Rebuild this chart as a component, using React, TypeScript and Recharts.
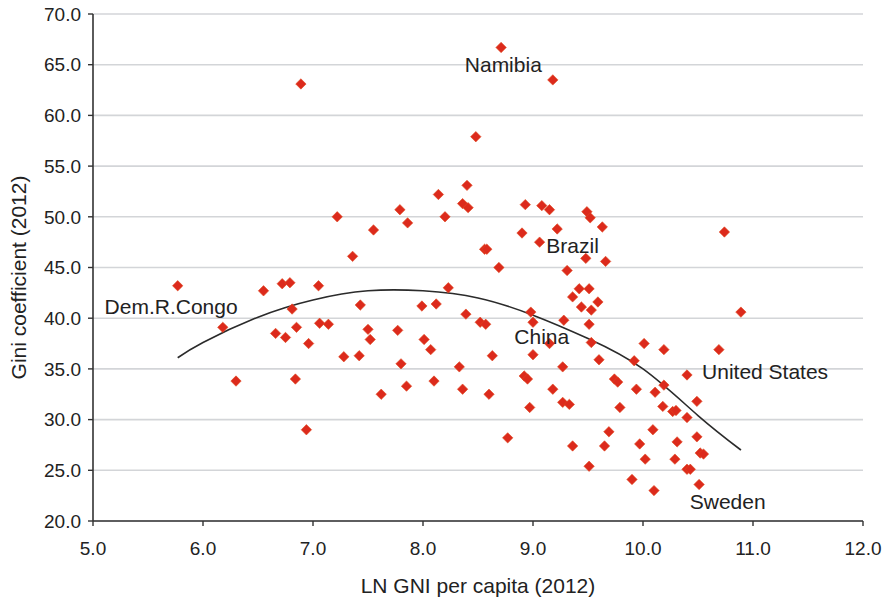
import { ComposedChart, Scatter, Line, XAxis, YAxis, CartesianGrid, ReferenceDot } from "recharts"

// LN GNI per capita (2012) vs Gini coefficient (2012), one entry per country
const lnGni = [
  6.89, 7.22, 7.55, 7.36,
  8.71, 9.18, 8.48, 8.4, 8.14, 7.79, 7.86, 8.2, 8.36, 8.41, 8.93, 9.08, 9.15, 9.49, 9.52, 9.63,
  8.9, 9.22, 9.06, 8.56, 8.58, 8.69, 9.48, 9.66, 9.31,
  8.23, 9.42, 9.51, 9.36, 9.59, 9.44, 9.53, 7.99, 8.12, 8.39, 8.52, 8.57, 8.98, 9.0, 9.28, 9.51,
  7.77, 8.01, 8.07, 9.15, 9.53, 9.0, 8.63, 9.6, 7.8, 8.33, 9.27, 10.01, 10.19, 9.92,
  7.85, 8.1, 8.36, 8.6, 7.62, 8.92, 8.95, 9.18, 8.97, 9.27, 9.33, 9.74, 9.77, 9.94, 9.79,
  10.11, 10.19, 10.18, 10.27, 10.3, 8.77, 9.36, 9.51, 9.69, 9.65, 9.97, 10.09, 10.02, 9.9, 10.1,
  10.31, 10.29,
  10.74, 10.89, 10.69, 10.4, 10.49, 10.4, 10.49, 10.52, 10.55, 10.4, 10.43, 10.51,
  5.77, 6.18, 6.3, 6.55, 6.72, 6.79, 6.66, 6.75, 6.81, 6.85, 6.84, 6.96, 6.94, 7.05, 7.06, 7.14,
  7.28, 7.42, 7.43, 7.5, 7.52,
]

const gini = [
  63.1, 50.0, 48.7, 46.1,
  66.7, 63.5, 57.9, 53.1, 52.2, 50.7, 49.4, 50.0, 51.3, 50.9, 51.2, 51.1, 50.7, 50.5, 49.9, 49.0,
  48.4, 48.8, 47.5, 46.8, 46.8, 45.0, 45.9, 45.6, 44.7,
  43.0, 42.9, 42.9, 42.1, 41.6, 41.1, 40.8, 41.2, 41.4, 40.4, 39.6, 39.4, 40.6, 39.6, 39.8, 39.4,
  38.8, 37.9, 36.9, 37.5, 37.6, 36.4, 36.3, 35.9, 35.5, 35.2, 35.2, 37.5, 36.9, 35.8,
  33.3, 33.8, 33.0, 32.5, 32.5, 34.3, 34.0, 33.0, 31.2, 31.7, 31.5, 34.0, 33.7, 33.0, 31.2,
  32.7, 33.4, 31.3, 30.8, 30.9, 28.2, 27.4, 25.4, 28.8, 27.4, 27.6, 29.0, 26.1, 24.1, 23.0,
  27.8, 26.1,
  48.5, 40.6, 36.9, 34.4, 31.8, 30.2, 28.3, 26.7, 26.6, 25.1, 25.1, 23.6,
  43.2, 39.1, 33.8, 42.7, 43.4, 43.5, 38.5, 38.1, 40.9, 39.1, 34.0, 37.5, 29.0, 43.2, 39.5, 39.4,
  36.2, 36.3, 41.3, 38.9, 37.9,
]

// fitted trend curve
const trendX = [5.77, 6.0, 6.5, 7.0, 7.5, 8.0, 8.5, 9.0, 9.5, 10.0, 10.5, 10.89]
const trendY = [36.1, 37.6, 40.1, 41.8, 42.7, 42.7, 42.0, 40.3, 38.0, 35.0, 30.4, 27.0]

const xTicks = [5, 6, 7, 8, 9, 10, 11, 12]
const yTicks = [20, 25, 30, 35, 40, 45, 50, 55, 60, 65, 70]

const callouts = [
  { name: "Namibia", x: 8.73, y: 64.3 },
  { name: "Brazil", x: 9.36, y: 46.4 },
  { name: "China", x: 9.08, y: 37.45 },
  { name: "Dem.R.Congo", x: 5.71, y: 40.45 },
  { name: "United States", x: 11.11, y: 34.05 },
  { name: "Sweden", x: 10.77, y: 21.2 },
]

const points = lnGni.map((x, i) => ({ x, y: gini[i] }))
const trend = trendX.map((x, i) => ({ x, y: trendY[i] }))

const font = "'Liberation Sans', Arial, Helvetica, sans-serif"

const Diamond = (props: any) => {
  const { cx, cy } = props
  if (cx == null || cy == null) return null
  const r = 5.2
  return (
    <polygon
      points={`${cx},${cy - r} ${cx + r},${cy} ${cx},${cy + r} ${cx - r},${cy}`}
      fill="#dc2a1c"
      stroke="#e0481f"
      strokeWidth={0.6}
    />
  )
}

export default function App() {
  return (
    <div style={{ position: "absolute", left: 0, top: 0, background: "#fff" }}>
      <ComposedChart width={891} height={601} margin={{ top: 14, right: 28, bottom: 0, left: 0 }}>
        <CartesianGrid vertical={false} stroke="#d3d5d8" strokeWidth={1.6} />
        <XAxis
          type="number"
          dataKey="x"
          domain={[5, 12]}
          ticks={xTicks}
          height={80}
          tickFormatter={(v: number) => v.toFixed(1)}
          tick={{ fill: "#222", fontSize: 19, fontFamily: font }}
          tickSize={5}
          tickMargin={16}
          axisLine={{ stroke: "#333", strokeWidth: 1.6 }}
          tickLine={{ stroke: "#333", strokeWidth: 1.4 }}
          label={{
            content: ({ viewBox }: any) => (
              <text
                x={viewBox.x + viewBox.width / 2}
                y={viewBox.y + 72}
                textAnchor="middle"
                fontSize={21}
                fontFamily={font}
                fill="#222"
              >
                LN GNI per capita (2012)
              </text>
            ),
          }}
        />
        <YAxis
          type="number"
          dataKey="y"
          domain={[20, 70]}
          ticks={yTicks}
          width={93}
          tickFormatter={(v: number) => v.toFixed(1)}
          tick={{ fill: "#222", fontSize: 19, fontFamily: font }}
          tickSize={5}
          tickMargin={7}
          axisLine={{ stroke: "#333", strokeWidth: 1.6 }}
          tickLine={{ stroke: "#333", strokeWidth: 1.4 }}
          label={{
            content: ({ viewBox }: any) => {
              const cx = viewBox.x + 25.5
              const cy = viewBox.y + viewBox.height / 2 + 10
              return (
                <text
                  x={cx}
                  y={cy}
                  transform={`rotate(-90 ${cx} ${cy})`}
                  textAnchor="middle"
                  fontSize={21}
                  fontFamily={font}
                  fill="#222"
                >
                  Gini coefficient (2012)
                </text>
              )
            },
          }}
        />
        <Scatter data={points} dataKey="y" shape={Diamond} isAnimationActive={false} />
        <Line
          data={trend}
          dataKey="y"
          type="natural"
          stroke="#2b2b2b"
          strokeWidth={1.6}
          dot={false}
          activeDot={false}
          isAnimationActive={false}
        />
        {callouts.map((c) => (
          <ReferenceDot
            key={c.name}
            x={c.x}
            y={c.y}
            r={0}
            shape={(p: any) => (
              <text x={p.cx} y={p.cy} textAnchor="middle" fontSize={21} fontFamily={font} fill="#222">
                {c.name}
              </text>
            )}
          />
        ))}
      </ComposedChart>
    </div>
  )
}
